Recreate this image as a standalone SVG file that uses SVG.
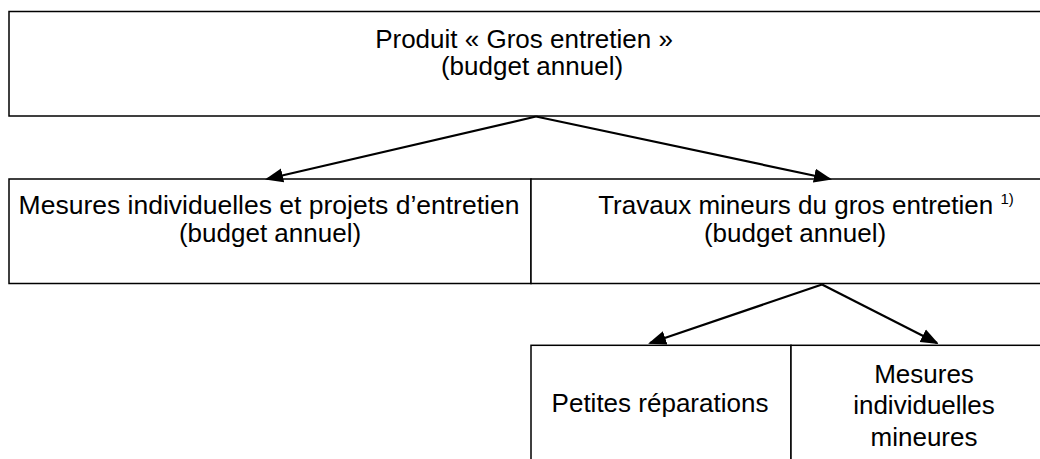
<svg xmlns="http://www.w3.org/2000/svg" width="1040" height="459" viewBox="0 0 1040 459">
<style>
.box{fill:#fff;stroke:#000;stroke-width:1.5}
.t{font-family:"Liberation Sans",Arial,sans-serif;font-size:26px;fill:#000;text-anchor:middle}
.sup{font-size:15px}
.conn{stroke:#000;stroke-width:2.2;fill:none;marker-end:url(#ah)}
</style>
<defs>
<marker id="ah" markerUnits="userSpaceOnUse" markerWidth="20" markerHeight="16" viewBox="0 0 20 16" refX="16" refY="8" orient="auto">
<path d="M0,1 L18,8 L0,15 z" fill="#000"/>
</marker>
</defs>
<g id="node-produit">
<rect class="box" x="9" y="11.5" width="1050" height="104.5"/>
<text class="t" x="524" y="47.5">Produit « Gros entretien »</text>
<text class="t" x="532" y="75">(budget annuel)</text>
</g>
<g id="node-mesures-projets">
<rect class="box" x="9" y="179" width="522" height="104.5"/>
<text class="t" x="269" y="214" style="font-size:26.5px">Mesures individuelles et projets d’entretien</text>
<text class="t" x="270" y="241.5">(budget annuel)</text>
</g>
<g id="node-travaux-mineurs">
<rect class="box" x="531" y="179" width="528" height="104.5"/>
<text class="t" x="806" y="214">Travaux mineurs du gros entretien <tspan class="sup" dy="-10">1)</tspan></text>
<text class="t" x="795" y="241.5">(budget annuel)</text>
</g>
<g id="node-petites-reparations">
<rect class="box" x="531" y="345.3" width="260" height="130"/>
<text class="t" x="660" y="412">Petites réparations</text>
</g>
<g id="node-mesures-mineures">
<rect class="box" x="791" y="345.3" width="268" height="130"/>
<text class="t" x="924" y="383">Mesures</text>
<text class="t" x="924" y="414">individuelles</text>
<text class="t" x="924" y="445.5">mineures</text>
</g>
<g id="connectors">
<line class="conn" x1="536" y1="116.5" x2="267" y2="179"/>
<line class="conn" x1="536" y1="116.5" x2="830" y2="179"/>
<line class="conn" x1="822" y1="284.5" x2="650" y2="343"/>
<line class="conn" x1="822" y1="284.5" x2="937" y2="343"/>
</g>
</svg>
